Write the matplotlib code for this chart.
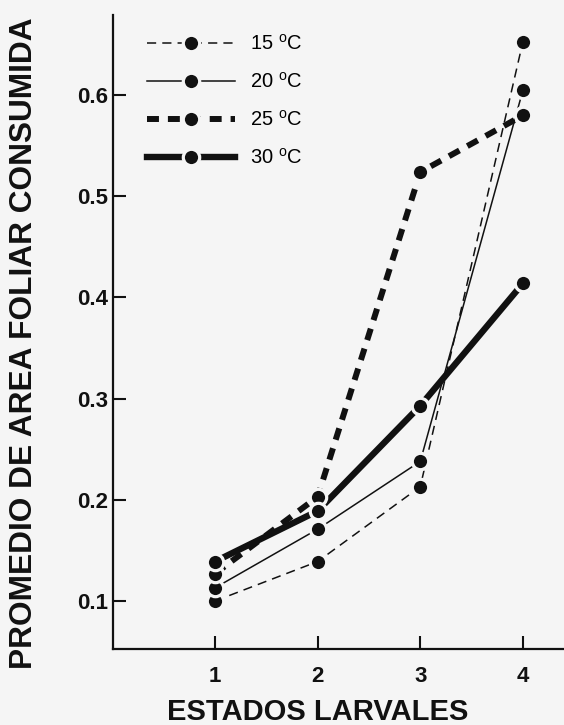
import matplotlib
matplotlib.use('Agg')
import matplotlib.pyplot as plt
from matplotlib.lines import Line2D

plt.rcParams['font.family'] = ['Liberation Sans', 'DejaVu Sans']
plt.rcParams['mathtext.fontset'] = 'custom'
plt.rcParams['mathtext.rm'] = 'Liberation Sans'

# data
stages = [1, 2, 3, 4]
t15 = [0.100, 0.139, 0.213, 0.653]
t20 = [0.113, 0.171, 0.238, 0.605]
t25 = [0.127, 0.203, 0.524, 0.580]
t30 = [0.139, 0.189, 0.293, 0.414]
labels = [r'15 $^{\rm o}$C', r'20 $^{\rm o}$C', r'25 $^{\rm o}$C', r'30 $^{\rm o}$C']
yticks = [0.1, 0.2, 0.3, 0.4, 0.5, 0.6]

bg = '#f5f5f5'
ink = '#111111'

styles = [
    dict(lw=1.1, ls=(0, (6, 4))),
    dict(lw=1.1, ls='-'),
    dict(lw=4.3, ls=(0, (2.0, 1.5))),
    dict(lw=4.6, ls='-'),
]

fig = plt.figure(figsize=(5.64, 7.25), dpi=100, facecolor=bg)
ax = fig.add_axes([0.201, 0.105, 0.799, 0.874])
ax.set_facecolor(bg)

series = [t15, t20, t25, t30]
handles = []
for vals, st, lab in zip(series, styles, labels):
    ax.plot(stages, vals, color=ink, lw=st['lw'], ls=st['ls'], zorder=2)
    # markers on top, with a background-coloured rim so lines stop short of them
    ax.plot(stages, vals, ls='none', marker='o', ms=11.8, color=ink,
            mec=bg, mew=2.3, zorder=3)
    handles.append(Line2D([], [], color=ink, lw=st['lw'], ls=st['ls'],
                          marker='o', ms=11.8, mec=bg, mew=2.3, label=lab))

ax.set_xlim(0.01, 4.4)
ax.set_ylim(0.0527, 0.679)
ax.set_xticks(stages)
ax.set_yticks(yticks)
ax.set_yticklabels(['%.1f' % v for v in yticks])

for s in ['top', 'right']:
    ax.spines[s].set_visible(False)
for s in ['left', 'bottom']:
    ax.spines[s].set_linewidth(1.6)
    ax.spines[s].set_color(ink)

ax.tick_params(direction='in', length=9.5, width=1.5, colors=ink, labelsize=16)
ax.tick_params(axis='y', pad=4)
ax.tick_params(axis='x', pad=12)
for lbl in ax.get_xticklabels() + ax.get_yticklabels():
    lbl.set_fontweight('bold')

ax.set_ylabel('PROMEDIO DE AREA FOLIAR CONSUMIDA', fontsize=22.8,
              fontweight='bold', color=ink)
ax.set_xlabel('ESTADOS LARVALES', fontsize=21, fontweight='bold', color=ink)
ax.yaxis.set_label_coords(-0.165, 0.482)
ax.xaxis.set_label_coords(0.454, -0.077)

ax.legend(handles=handles, loc='upper left', frameon=False, fontsize=14.5,
          handlelength=4.37, handletextpad=0.75, labelspacing=0.9,
          borderpad=0, borderaxespad=0, numpoints=1,
          bbox_to_anchor=(0.2606, 0.9535), bbox_transform=fig.transFigure)

fig.savefig('out.png', dpi=100, facecolor=bg)
